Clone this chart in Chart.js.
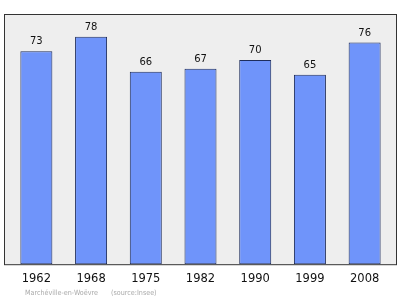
<!DOCTYPE html>
<html>
<head>
<meta charset="utf-8">
<script src="https://cdn.jsdelivr.net/npm/chart.js@4"></script>
<style>
  html, body { margin: 0; padding: 0; background: #fff; }
  #wrap { width: 400px; height: 299px; }
</style>
</head>
<body>
<div id="wrap"><canvas id="myChart" width="400" height="299"></canvas></div>
<script>
const annees = ["1962", "1968", "1975", "1982", "1990", "1999", "2008"];
const habitants = [73, 78, 66, 67, 70, 65, 76];
const legende = "Marchéville-en-Woëvre";
const source = "(source:Insee)";

const ctx = document.getElementById("myChart");

// fond gris + cadre, valeurs au-dessus des barres, légende en bas
const decor = {
  id: "decor",
  beforeDatasetsDraw(chart) {
    const c = chart.ctx;
    const a = chart.chartArea;
    c.save();
    c.fillStyle = "#eeeeee";
    c.fillRect(a.left - 4.5, a.top, a.right - a.left + 9, a.bottom - a.top);
    c.strokeStyle = "#333333";
    c.lineWidth = 1;
    c.strokeRect(a.left - 4.5, a.top + 0.5, a.right - a.left + 9, a.bottom - a.top);
    c.restore();
  },
  afterDraw(chart) {
    const c = chart.ctx;
    const meta = chart.getDatasetMeta(0);
    c.save();
    c.fillStyle = "#111111";
    c.font = "10px 'DejaVu Sans'";
    c.textAlign = "center";
    c.textBaseline = "alphabetic";
    meta.data.forEach((bar, i) => {
      c.fillText(habitants[i], bar.x, bar.y - 7);
    });
    // taille de la légende ajustée pour ~73px de large
    c.font = "10px 'DejaVu Sans Condensed'";
    const taille = 10 * 73 / c.measureText(legende).width;
    c.font = taille.toFixed(2) + "px 'DejaVu Sans Condensed'";
    c.fillStyle = "#aaaaaa";
    c.textAlign = "left";
    c.fillText(legende, 25, 295);
    c.fillText(source, 111, 295);
    c.restore();
  },
};

new Chart(ctx, {
  type: "bar",
  data: {
    labels: annees,
    datasets: [
      {
        data: habitants,
        backgroundColor: "#6f94fa",
        borderColor: "#1e2d5c",
        borderWidth: 1,
        borderSkipped: false,
        barPercentage: 0.585,
        categoryPercentage: 1,
      },
    ],
  },
  options: {
    responsive: false,
    animation: false,
    layout: { padding: { left: 9, right: 8, top: 14, bottom: 5 } },
    plugins: { legend: { display: false }, tooltip: { enabled: false } },
    scales: {
      x: {
        grid: { display: false, drawTicks: false },
        border: { display: false },
        ticks: { color: "#111111", font: { family: "DejaVu Sans", size: 11.5 }, padding: 8, maxRotation: 0 },
      },
      y: {
        display: false,
        min: 0,
        max: 85.8,
      },
    },
  },
  plugins: [decor],
});
</script>
</body>
</html>
